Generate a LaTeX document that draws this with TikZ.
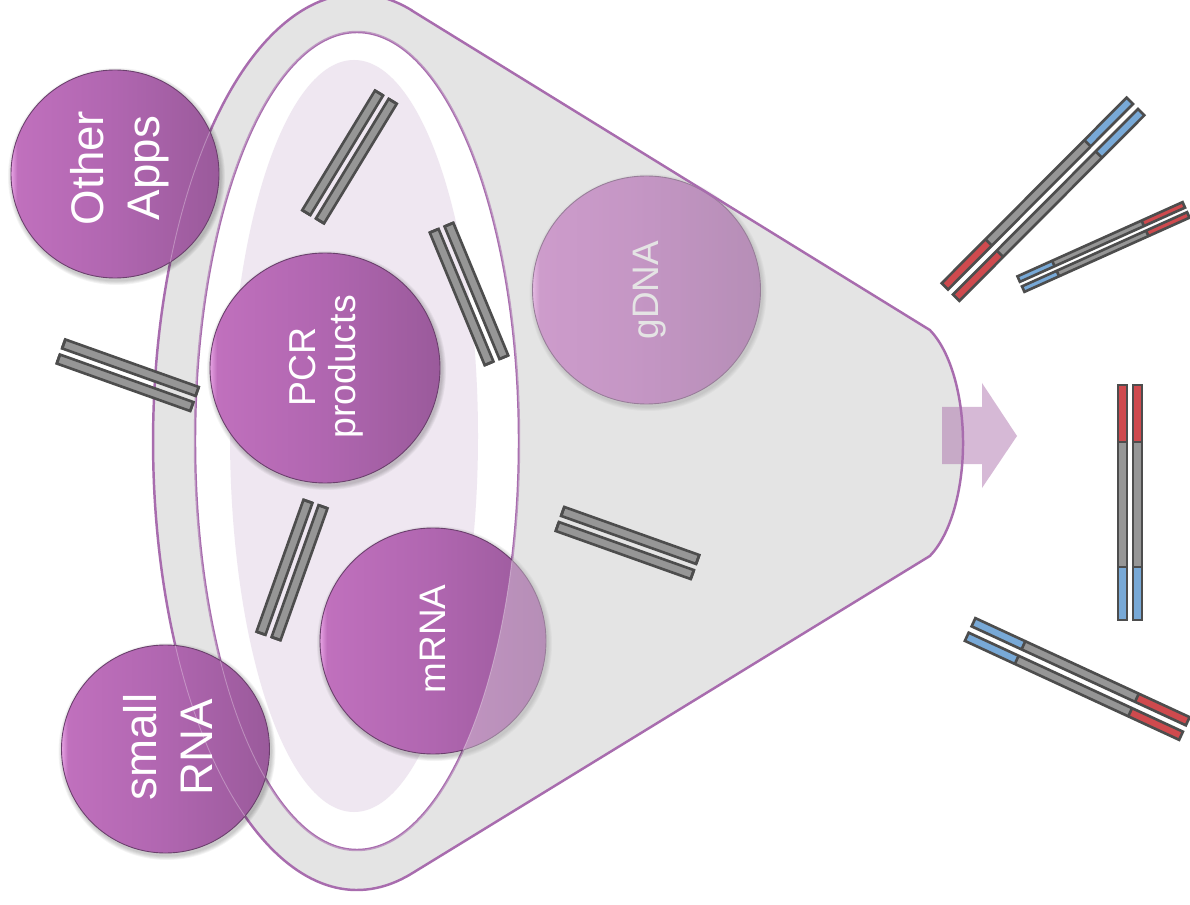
\documentclass[tikz,border=0pt]{standalone}
\usepackage{fontspec}
\setmainfont{Liberation Sans}
\definecolor{funnelgray}{HTML}{E4E4E4}
\definecolor{funnelline}{HTML}{A86CAE}
\definecolor{lavfill}{HTML}{EFE7F1}
\definecolor{dnagray}{HTML}{969696}
\definecolor{dnared}{HTML}{CF4A4E}
\definecolor{dnablue}{HTML}{78A9D7}
\definecolor{strandedge}{HTML}{4D4D4D}
\definecolor{arrowpurple}{HTML}{A565A5}
\definecolor{bubhi}{HTML}{E6A2E3}
\definecolor{bubleft}{HTML}{C070BD}
\definecolor{bubmid}{HTML}{B066B0}
\definecolor{bubright}{HTML}{9A5A9B}
\definecolor{bubedge}{HTML}{6A3F6C}
\pgfdeclarehorizontalshading{bubshade}{100bp}{color(0bp)=(bubhi); color(25bp)=(bubhi); color(26.5bp)=(bubleft); color(50bp)=(bubmid); color(75bp)=(bubright); color(100bp)=(bubright)}
\tikzset{
  outline/.style={draw=funnelline, line width=1.4pt},
  strandline/.style={draw=strandedge, line width=1.5pt, line join=miter},
  bubble/.style={circle, shading=bubshade, draw=bubedge, line width=0.5pt, inner sep=0pt, outer sep=0pt},
  lbl/.style={text=white, rotate=90, align=center, inner sep=0pt},
  biglbl/.style={lbl, font=\fontsize{26}{31.7}\selectfont},
  midlbl/.style={lbl, font=\fontsize{21.3}{22.7}\selectfont},
}
\def\funnelpath{(411.6,10.4) -- (929.8,330) arc[start angle=-64.7, end angle=64.7, x radius=58, y radius=125] -- (411.6,873.6) arc[start angle=74.5, end angle=285.5, x radius=204, y radius=448] -- cycle}
\def\innerellipse{(357,441) ellipse[x radius=162, y radius=409]}
% #1 length, #2 bar thickness, #3 separation, #4 left length, #5 left colour, #6 right length, #7 right colour
\newcommand{\cstrand}[7]{%
  \foreach \yy in {-1,1}{%
    \fill[#5] ({-#1/2},{\yy*#3/2-#2/2}) rectangle ({-#1/2+#4},{\yy*#3/2+#2/2});
    \fill[dnagray] ({-#1/2+#4},{\yy*#3/2-#2/2}) rectangle ({#1/2-#6},{\yy*#3/2+#2/2});
    \fill[#7] ({#1/2-#6},{\yy*#3/2-#2/2}) rectangle ({#1/2},{\yy*#3/2+#2/2});
    \draw[strandline] ({-#1/2+#4},{\yy*#3/2-#2/2}) -- ({-#1/2+#4},{\yy*#3/2+#2/2});
    \draw[strandline] ({#1/2-#6},{\yy*#3/2-#2/2}) -- ({#1/2-#6},{\yy*#3/2+#2/2});
    \draw[strandline] ({-#1/2},{\yy*#3/2-#2/2}) rectangle ({#1/2},{\yy*#3/2+#2/2});
  }}
\newcommand{\gstrand}[1]{\cstrand{#1}{9.5}{16}{0}{dnagray}{0}{dnagray}}
% #1 name, #2 cx, #3 cy, #4 radius
\newcommand{\bubble}[4]{%
  \foreach \k in {1,...,5}{\fill[black, opacity=0.045] ({#2+1.5},{#3+2.5}) circle[radius={#4+\k*0.9}];}
  \node[bubble, minimum size={2*#4*0.02cm}] (#1) at (#2,#3) {};
}
\begin{document}
\begin{tikzpicture}[x=0.02cm, y=-0.02cm]
\useasboundingbox (0,0) rectangle (1190,905);
\clip (0,0) rectangle (1190,905);
\fill[white] (0,0) rectangle (1190,905);

% funnel body
\fill[funnelgray] \funnelpath;
\filldraw[outline, fill=white] \innerellipse;
\fill[lavfill] (354,436) ellipse[x radius=124, y radius=376];

% circles inside the funnel
\bubble{gdnac}{646.5}{290}{114}
\node[lbl, font=\fontsize{21}{25}\selectfont, text=white!90!black] (gdna) at (650,290) {gDNA};
\bubble{pcrc}{325}{368}{115}
\node[midlbl] (pcr) at (326,367) {PCR\\products};
\bubble{mrnac}{433}{641}{113}
\node[lbl, font=\fontsize{21}{25}\selectfont] (mrna) at (433,639) {mRNA};

% translucent funnel wall over the circles
\fill[funnelgray, opacity=0.38, even odd rule] \funnelpath \innerellipse;

% arrow
\path[fill=arrowpurple, opacity=0.45] (942,407) -- (982,407) -- (982,383) -- (1017,436) -- (982,488) -- (982,464) -- (942,464) -- cycle;

% funnel outline
\draw[outline] \funnelpath;
\begin{scope}
  \clip (433,641) circle[radius=113];
  \draw[white, opacity=0.3, line width=0.5pt] \innerellipse;
\end{scope}

% grey strands
\begin{scope}[shift={(349.5,157)}, rotate=58.7] \gstrand{140} \end{scope}
\begin{scope}[shift={(469,294)}, rotate=-67.5] \gstrand{143.5} \end{scope}
\begin{scope}[shift={(127.75,375.25)}, rotate=-19.6] \gstrand{141.7} \end{scope}
\begin{scope}[shift={(292,570)}, rotate=70.4] \gstrand{140} \end{scope}
\begin{scope}[shift={(627.5,543)}, rotate=-19.6] \gstrand{143.3} \end{scope}

% coloured strands
\begin{scope}[shift={(1043,199.25)}, rotate=45.1] \cstrand{262}{9}{16}{62}{dnared}{60}{dnablue} \end{scope}
\begin{scope}[shift={(1103.5,247)}, rotate=24.2] \cstrand{181}{6}{11}{38}{dnablue}{45}{dnared} \end{scope}
\begin{scope}[shift={(1130,502.5)}, rotate=90] \cstrand{235}{9}{15}{53}{dnablue}{57}{dnared} \end{scope}
\begin{scope}[shift={(1077.25,679)}, rotate=-24.8] \cstrand{236}{9}{16}{55}{dnablue}{56}{dnared} \end{scope}

% circles outside the funnel
\bubble{otherc}{115}{174}{104}
\begin{scope}
  \clip (115,174) circle[radius=104];
  \draw[white, opacity=0.3, line width=0.5pt] \funnelpath;
\end{scope}
\node[biglbl] (other) at (120,168) {Other\\Apps};
\bubble{smallc}{165.5}{749}{104}
\begin{scope}
  \clip (165.5,749) circle[radius=104];
  \draw[white, opacity=0.3, line width=0.5pt] \funnelpath;
  \draw[white, opacity=0.3, line width=0.5pt] \innerellipse;
\end{scope}
\node[biglbl] (small) at (168,747) {small\\RNA};
\end{tikzpicture}
\end{document}
